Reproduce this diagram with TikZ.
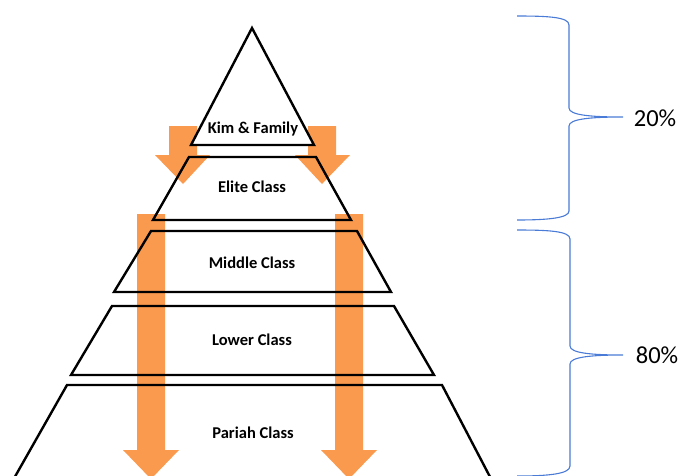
\documentclass[tikz,border=0pt]{standalone}
\usepackage{fontspec}
\setmainfont{Carlito}
\definecolor{arrorange}{HTML}{F99A4E}
\definecolor{braceblue}{HTML}{4A7BD6}
\tikzset{
  level/.style={draw=black, line width=2.4pt, line join=miter},
  toplevel/.style={level, fill=white},
  flow/.style={fill=arrorange, draw=none},
  lbl/.style={font=\fontsize{16.5}{19}\selectfont\bfseries, inner sep=0pt},
  pct/.style={font=\fontsize{24.5}{28}\selectfont, inner sep=0pt},
  bracepath/.style={draw=braceblue, line width=1.1pt}
}
\begin{document}
\begin{tikzpicture}[x=1pt,y=-1pt]
\useasboundingbox (0,0) rectangle (684,475);
\clip (0,0) rectangle (684,475);
% large arrows
\draw[flow] (137,214) -- (165,214) -- (165,450) -- (179,450) -- (151,479) -- (123,450) -- (137,450) -- cycle;
\draw[flow] (335,214) -- (363,214) -- (363,450) -- (377,450) -- (349,479) -- (321,450) -- (335,450) -- cycle;
% small arrows
\draw[flow] (169,126) -- (197,126) -- (197,155) -- (210,155) -- (183,184) -- (155,155) -- (169,155) -- cycle;
\draw[flow] (308,126) -- (336,126) -- (336,155) -- (350,155) -- (322,184) -- (295,155) -- (308,155) -- cycle;
% levels
\draw[level] (189,157) -- (316,157) -- (351,220) -- (153,220) -- cycle;
\draw[level] (151,231) -- (357,231) -- (391,292) -- (114,292) -- cycle;
\draw[level] (112,306) -- (394,306) -- (434,375) -- (71,375) -- cycle;
\draw[level] (67,385) -- (442,385) -- (500,496) -- (4,496) -- cycle;
\draw[toplevel] (252,28) -- (314,145) -- (191,145) -- cycle;
% labels
\node[lbl] (kim) at (253,129) {Kim \& Family};
\node[lbl] (elite) at (252,187) {Elite Class};
\node[lbl] (middle) at (252,263) {Middle Class};
\node[lbl] (lower) at (252,340) {Lower Class};
\node[lbl] (pariah) at (253,433) {Pariah Class};
% braces
\draw[bracepath] (517,16) .. controls (548,16) and (569,17) .. (569,25) -- (569,108)
  .. controls (569,115) and (590,117) .. (623,117)
  .. controls (590,117) and (569,119) .. (569,126) -- (569,211)
  .. controls (569,218) and (548,220) .. (517,220);
\draw[bracepath] (517,230) .. controls (548,230) and (570,231) .. (570,239) -- (570,346)
  .. controls (570,353) and (591,355) .. (623,355)
  .. controls (591,355) and (570,357) .. (570,364) -- (570,466)
  .. controls (570,474) and (548,476) .. (517,476);
\node[pct] (p20) at (655,118) {20\%};
\node[pct] (p80) at (657,355) {80\%};
\end{tikzpicture}
\end{document}
